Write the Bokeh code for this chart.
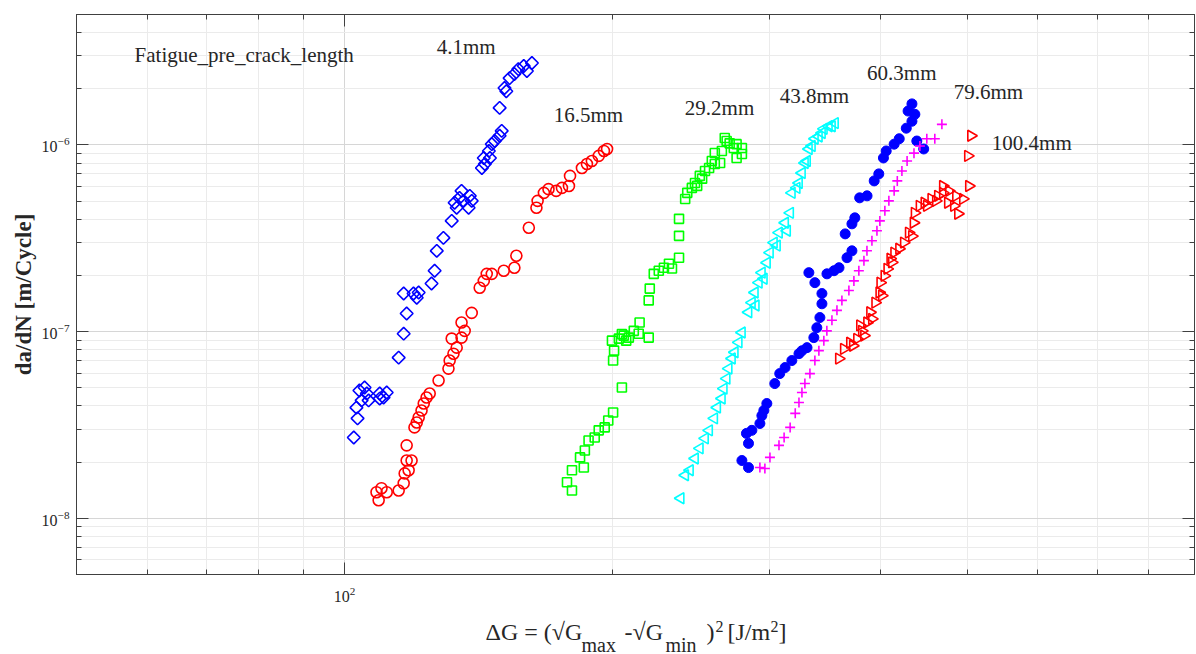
import math
from bokeh.plotting import figure
from bokeh.layouts import column
from bokeh.models import Range1d, FixedTicker, LogAxis, CustomJSTickFormatter
from bokeh.core.properties import value
from bokeh.embed import file_html
from bokeh.resources import INLINE

FONT = "Liberation Serif"
TXT = "#262626"
AX = "#404040"

# ---------------- ticks ----------------
x_major = [100]
x_minor = [50, 60, 70, 80, 90, 200, 300, 400, 500, 600, 700, 800, 900]
y_major = [1e-8, 1e-7, 1e-6]
y_minor = [5e-9, 6e-9, 7e-9, 8e-9, 9e-9,
           2e-8, 3e-8, 4e-8, 5e-8, 6e-8, 7e-8, 8e-8, 9e-8,
           2e-7, 3e-7, 4e-7, 5e-7, 6e-7, 7e-7, 8e-7, 9e-7,
           2e-6, 3e-6, 4e-6, 5e-6]

# ---------------- data ----------------
# 4.1 mm (blue diamonds)
x41 = [102.4, 103.4, 103.1, 104.5, 103.9, 105.3, 105.9, 106.4, 109.5, 110.6,
       111.5, 109.5, 115.0, 116.5, 117.4, 116.5, 119.5, 120.5, 121.1, 125.2,
       126.2, 126.9, 129.1, 131.9, 133.6, 134.6, 136.0, 135.3, 137.8, 138.9,
       138.2, 132.9, 142.6, 143.3, 145.2, 146.3, 147.4, 149.3, 150.1, 143.7,
       145.6, 149.3, 151.9, 151.2, 153.2, 155.1, 156.7, 158.9, 162.3, 160.2]
y41 = [2.71e-8, 3.43e-8, 3.92e-8, 4.28e-8, 4.84e-8, 5.02e-8, 4.66e-8, 4.28e-8, 4.66e-8, 4.44e-8,
       4.72e-8, 4.38e-8, 7.26e-8, 9.75e-8, 1.25e-7, 1.60e-7, 1.60e-7, 1.52e-7, 1.62e-7, 1.81e-7,
       2.12e-7, 2.71e-7, 3.18e-7, 3.92e-7, 4.61e-7, 5.21e-7, 5.02e-7, 5.68e-7, 4.61e-7, 5.02e-7,
       5.34e-7, 4.90e-7, 7.53e-7, 8.52e-7, 9.29e-7, 1.01e-6, 1.05e-6, 1.12e-6, 1.19e-6, 7.91e-7,
       8.52e-7, 1.58e-6, 1.94e-6, 2.02e-6, 2.28e-6, 2.40e-6, 2.55e-6, 2.65e-6, 2.75e-6, 2.49e-6]

# 16.5 mm (red circles)
x165 = [109.2, 110.0, 108.6, 111.5, 115.0, 116.5, 116.8, 118.0, 117.4, 118.9,
        117.4, 119.8, 120.5, 121.1, 122.0, 122.7, 123.6, 124.6, 127.5, 130.8,
        131.2, 132.5, 133.6, 131.9, 135.3, 136.4, 135.3, 138.9, 141.8, 143.3,
        144.4, 146.3, 150.9, 155.1, 155.9, 161.0, 164.2, 164.7, 167.4, 169.4,
        172.8, 175.4, 178.6, 179.1, 184.7, 187.1, 189.5, 192.9, 195.5, 197.1]
y165 = [1.25e-8, 1.45e-8, 1.38e-8, 1.38e-8, 1.41e-8, 1.54e-8, 1.74e-8, 1.81e-8, 2.04e-8, 2.04e-8,
        2.46e-8, 3.07e-8, 3.26e-8, 3.47e-8, 3.78e-8, 4.12e-8, 4.44e-8, 4.66e-8, 5.47e-8, 6.34e-8,
        7.00e-8, 7.62e-8, 8.21e-8, 9.18e-8, 9.29e-8, 1.01e-7, 1.12e-7, 1.26e-7, 1.72e-7, 1.87e-7,
        2.04e-7, 2.04e-7, 2.12e-7, 2.20e-7, 2.55e-7, 3.60e-7, 4.61e-7, 5.02e-7, 5.54e-7, 5.80e-7,
        5.68e-7, 5.89e-7, 6.03e-7, 6.83e-7, 7.53e-7, 7.91e-7, 8.21e-7, 8.74e-7, 9.29e-7, 9.52e-7]

# 29.2 mm (green squares)
x292 = [180.0, 177.7, 180.0, 185.6, 183.8, 186.1, 187.9, 190.9, 192.9, 195.9,
        197.7, 200.2, 204.8, 200.2, 200.7, 199.6, 203.2, 205.8, 208.5, 211.2,
        214.4, 219.5, 213.9, 219.5, 220.1, 222.4, 225.3, 228.3, 231.3, 233.1,
        237.4, 237.4, 237.4, 241.2, 242.5, 245.4, 247.4, 250.5, 253.9, 256.6,
        260.4, 260.4, 267.2, 270.6, 273.5, 275.5, 279.3, 279.3, 264.0,
        248.8, 252.0, 258.4, 265.2, 268.5, 275.5, 207.1, 204.8]
y292 = [1.41e-8, 1.56e-8, 1.81e-8, 1.87e-8, 2.12e-8, 2.31e-8, 2.61e-8, 2.71e-8, 2.96e-8, 3.07e-8,
        3.34e-8, 3.69e-8, 5.02e-8, 7.00e-8, 7.91e-8, 8.95e-8, 9.18e-8, 9.52e-8, 9.29e-8, 1.01e-7,
        1.12e-7, 9.29e-8, 9.75e-8, 1.47e-7, 1.70e-7, 2.04e-7, 2.12e-7, 2.20e-7, 2.31e-7, 2.18e-7,
        2.49e-7, 3.26e-7, 4.02e-7, 5.14e-7, 5.54e-7, 5.89e-7, 6.26e-7, 6.83e-7, 7.26e-7, 7.53e-7,
        7.91e-7, 9.06e-7, 1.09e-6, 1.02e-6, 9.64e-7, 8.52e-7, 9.64e-7, 8.95e-7, 8.00e-7,
        6.04e-7, 6.60e-7, 8.21e-7, 9.29e-7, 1.05e-6, 1.01e-6, 8.95e-8, 9.70e-8]

# 43.8 mm (cyan left triangles)
x438 = [238.4, 241.2, 244.2, 247.4, 250.5, 253.9, 256.6, 260.0, 262.0, 265.2,
        266.5, 268.5, 269.9, 272.2, 274.2, 277.0, 279.3, 284.1, 286.6, 288.8,
        291.8, 294.1, 298.0, 300.3, 303.4, 307.4, 312.3, 316.4, 317.8, 323.7,
        326.2, 328.7, 332.1, 337.3, 343.5, 349.7, 355.3,
        289.5, 295.6, 305.8, 313.9, 321.8, 330.5, 334.7, 340.8, 345.2, 352.5]
y438 = [1.28e-8, 1.70e-8, 1.81e-8, 2.09e-8, 2.37e-8, 2.68e-8, 2.96e-8, 3.43e-8, 3.92e-8, 4.38e-8,
        4.95e-8, 5.60e-8, 6.34e-8, 7.18e-8, 7.75e-8, 8.76e-8, 9.89e-8, 1.27e-7, 1.43e-7, 1.62e-7,
        1.83e-7, 2.07e-7, 2.34e-7, 2.65e-7, 3.00e-7, 3.39e-7, 3.83e-7, 4.33e-7, 5.54e-7, 6.26e-7,
        7.08e-7, 8.00e-7, 9.52e-7, 1.08e-6, 1.16e-6, 1.26e-6, 1.31e-6,
        1.38e-7, 1.92e-7, 2.89e-7, 3.47e-7, 5.89e-7, 8.21e-7, 9.88e-7, 1.11e-6, 1.22e-6, 1.26e-6]

# 60.3 mm (blue filled circles)
x603 = [284.1, 279.3, 284.1, 282.6, 286.6, 292.6, 295.6, 297.9, 304.1, 308.0,
        312.3, 317.8, 323.7, 330.5, 336.4, 339.0, 341.7, 343.5, 343.5, 337.3,
        332.1, 348.0, 354.4, 359.0, 366.5, 371.2, 364.8, 371.2, 374.0, 378.7,
        386.0, 393.2, 397.9, 402.7, 405.6, 414.0, 419.5, 427.2, 429.2, 433.5,
        436.8, 439.0, 446.9, 433.5, 294.1, 326.2]
y603 = [1.87e-8, 2.04e-8, 2.52e-8, 2.85e-8, 2.96e-8, 3.22e-8, 3.78e-8, 4.12e-8, 5.27e-8, 5.96e-8,
        6.42e-8, 7.00e-8, 7.62e-8, 8.21e-8, 9.29e-8, 1.05e-7, 1.19e-7, 1.41e-7, 1.60e-7, 1.83e-7,
        2.07e-7, 2.04e-7, 2.12e-7, 2.20e-7, 2.49e-7, 2.71e-7, 3.34e-7, 3.78e-7, 4.07e-7, 5.21e-7,
        5.34e-7, 6.42e-7, 7.00e-7, 8.52e-7, 9.29e-7, 1.01e-6, 1.08e-6, 1.23e-6, 1.52e-6, 1.66e-6,
        1.46e-6, 1.05e-6, 9.52e-7, 1.34e-6, 3.55e-8, 7.90e-8]

# 79.6 mm (magenta plus)
x796 = [296.4, 292.6, 300.3, 307.4, 311.5, 316.4, 320.6, 323.7, 326.2, 328.7,
        333.0, 337.3, 340.8, 345.2, 347.9, 352.5, 357.1, 361.7, 368.3, 373.1,
        377.9, 382.9, 385.9, 390.9, 396.0, 399.0, 404.2, 408.4, 414.0, 417.4,
        422.4, 428.1, 435.8, 442.5, 450.5, 459.9, 468.4]
y796 = [1.85e-8, 1.87e-8, 2.12e-8, 2.46e-8, 2.71e-8, 3.07e-8, 3.65e-8, 4.17e-8, 4.72e-8, 5.27e-8,
        5.96e-8, 7.00e-8, 7.91e-8, 8.95e-8, 1.01e-7, 1.15e-7, 1.30e-7, 1.47e-7, 1.66e-7, 1.87e-7,
        2.12e-7, 2.40e-7, 2.71e-7, 3.07e-7, 3.47e-7, 3.92e-7, 4.44e-7, 5.02e-7, 5.68e-7, 6.42e-7,
        7.26e-7, 8.21e-7, 9.04e-7, 9.88e-7, 1.08e-6, 1.08e-6, 1.29e-6]

# 100.4 mm (red right triangles)
x1004 = [358.9, 363.5, 369.3, 376.1, 383.0, 379.0, 386.0, 389.0, 394.2, 398.4,
         399.4, 403.7, 406.7, 409.9, 414.0, 419.3, 424.5, 429.9, 435.3, 436.5,
         442.1, 447.7, 455.7, 463.6, 469.6, 475.7, 483.2, 488.3, 494.6, 502.3,
         501.0, 505.0, 469.6,
         372.1, 380.9, 390.9, 401.1, 411.6, 433.5, 450.5, 461.2, 477.0, 485.8]
y1004 = [7.17e-8, 8.08e-8, 8.72e-8, 9.14e-8, 9.52e-8, 1.08e-7, 1.12e-7, 1.27e-7, 1.43e-7, 1.62e-7,
         1.83e-7, 1.99e-7, 2.17e-7, 2.46e-7, 2.65e-7, 2.78e-7, 3.00e-7, 3.39e-7, 3.83e-7, 4.33e-7,
         4.72e-7, 4.90e-7, 5.14e-7, 5.34e-7, 5.54e-7, 4.90e-7, 4.72e-7, 4.28e-7, 5.14e-7, 6.03e-7,
         8.74e-7, 1.12e-6, 6.03e-7,
         8.40e-8, 1.01e-7, 1.17e-7, 1.56e-7, 2.35e-7, 3.25e-7, 4.72e-7, 5.02e-7, 5.68e-7, 5.34e-7]

# annotations
ann_text = ["Fatigue_pre_crack_length", "4.1mm", "16.5mm", "29.2mm",
            "43.8mm", "60.3mm", "79.6mm", "100.4mm"]
ann_x = [58.1, 126.9, 171.7, 241.0, 308.0, 386.0, 483.0, 533.0]
ann_y = [3.03e-6, 3.34e-6, 1.447e-6, 1.578e-6, 1.83e-6, 2.43e-6, 1.92e-6, 1.026e-6]

# ---------------- main figure ----------------
p = figure(width=1196, height=614, x_axis_type="log", y_axis_type="log",
           x_range=Range1d(50, 900), y_range=Range1d(5e-9, 5e-6),
           output_backend="svg", toolbar_location=None,
           min_border_left=76, min_border_right=2, min_border_top=14, min_border_bottom=40)
p.background_fill_color = "white"
p.border_fill_color = "white"
p.outline_line_color = AX
p.outline_line_width = 1

xt = FixedTicker(ticks=x_major, minor_ticks=x_minor)
yt = FixedTicker(ticks=y_major, minor_ticks=y_minor)

bottom = p.xaxis[0]
left = p.yaxis[0]
bottom.ticker = xt
left.ticker = yt


def style(ax):
    ax.axis_line_color = AX
    ax.axis_line_width = 1
    ax.major_tick_line_color = AX
    ax.minor_tick_line_color = AX
    ax.major_tick_in = 12
    ax.major_tick_out = 0
    ax.minor_tick_in = 5
    ax.minor_tick_out = 0
    ax.major_label_text_font = FONT
    ax.major_label_text_color = TXT
    ax.major_label_text_font_size = "16px"


style(bottom)
style(left)
bottom.major_label_standoff = 12
left.major_label_standoff = 7
bottom.axis_label = None
left.axis_label = "da/dN [m/Cycle]"
left.axis_label_text_font = FONT
left.axis_label_text_font_size = "23px"
left.axis_label_text_font_style = "bold"
left.axis_label_text_color = TXT
left.axis_label_standoff = 3

blank = CustomJSTickFormatter(code="return ''")
top = LogAxis(ticker=xt, formatter=blank)
right = LogAxis(ticker=yt, formatter=blank)
for ax in (top, right):
    style(ax)
    ax.major_label_text_font_size = "1px"
    ax.major_label_standoff = 0
p.add_layout(top, "above")
p.add_layout(right, "right")

for g in (p.xgrid[0], p.ygrid[0]):
    g.grid_line_color = "#d6d6d6"
    g.grid_line_width = 1
    g.minor_grid_line_color = "#ebebeb"
    g.minor_grid_line_width = 1

# ---------------- series ----------------
LW = 1.6
p.scatter(x41, y41, marker="square", angle=math.pi / 4, size=9,
          fill_color=None, line_color="#0000ff", line_width=LW)
p.scatter(x165, y165, marker="circle", size=11,
          fill_color=None, line_color="#ff0000", line_width=LW)
p.scatter(x292, y292, marker="square", size=9,
          fill_color=None, line_color="#00ff00", line_width=LW)
p.scatter(x438, y438, marker="triangle", angle=math.pi / 2, size=11,
          fill_color=None, line_color="#00ffff", line_width=LW)
p.scatter(x603, y603, marker="circle", size=10,
          fill_color="#0000ff", line_color="#0000ff", line_width=1)
p.scatter(x796, y796, marker="cross", size=10,
          line_color="#ff00ff", line_width=LW)
p.scatter(x1004, y1004, marker="triangle", angle=-math.pi / 2, size=11,
          fill_color=None, line_color="#ff0000", line_width=LW)

p.text(ann_x, ann_y, text=ann_text, text_font=value(FONT), text_font_size="21px",
       text_color=TXT, text_baseline="middle", text_align="left")

# ---------------- x axis title strip (with sub/superscripts) ----------------
q = figure(width=1196, height=40, x_range=Range1d(76, 1194), y_range=Range1d(40, 0),
           output_backend="svg", toolbar_location=None,
           x_axis_location=None, y_axis_location=None,
           min_border_left=76, min_border_right=2, min_border_top=0, min_border_bottom=0)
q.outline_line_color = None
q.grid.visible = False
q.background_fill_color = "white"
q.border_fill_color = "white"

main_txt = ["ΔG = (√G", "-√G", ")", "[J/m", "]"]
main_x = [485, 624, 706, 727, 778]
sub_txt = ["max", "min"]
sub_x = [581, 665]
sup_txt = ["2", "2"]
sup_x = [715, 770]

q.text(main_x, [17] * len(main_x), text=main_txt, text_font=value(FONT),
       text_font_size="24px", text_color=TXT, text_baseline="middle")
q.text(sub_x, [30] * len(sub_x), text=sub_txt, text_font=value(FONT),
       text_font_size="20px", text_color=TXT, text_baseline="middle")
q.text(sup_x, [12] * len(sup_x), text=sup_txt, text_font=value(FONT),
       text_font_size="16px", text_color=TXT, text_baseline="middle")

layout = column(p, q, spacing=0)
open("out.html", "w").write(file_html(layout, INLINE))
